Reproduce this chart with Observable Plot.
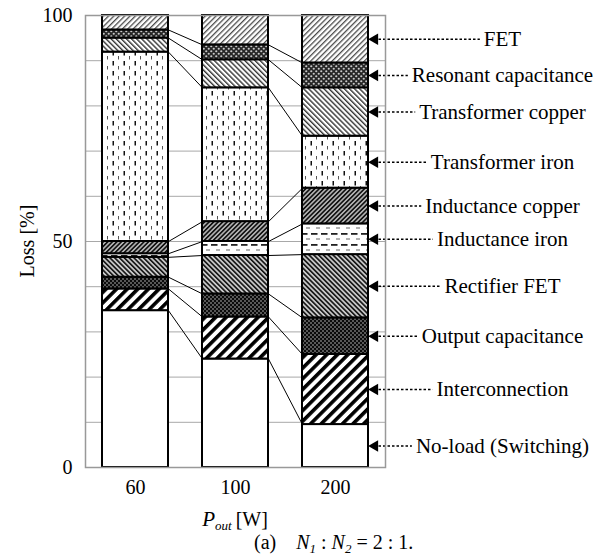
<!DOCTYPE html>
<html><head><meta charset="utf-8">
<script src="https://cdn.jsdelivr.net/npm/d3@7"></script>
<script src="https://cdn.jsdelivr.net/npm/@observablehq/plot@0.6"></script>
<style>
body{margin:0;background:#fff;font-family:"Liberation Serif","Times New Roman",serif;}
#wrap{position:relative;width:605px;height:559px;overflow:hidden;}
#caption{position:absolute;left:254px;top:530px;font-size:20px;line-height:24px;color:#000;white-space:nowrap;}
#caption sub{font-size:13px;vertical-align:-4px;line-height:0;}
</style></head><body>
<svg width="0" height="0" style="position:absolute">
<defs>
<pattern id="p-fet" width="3.8" height="3.8" patternUnits="userSpaceOnUse" patternTransform="rotate(45)">
 <rect width="3.8" height="3.8" fill="#fff"/><rect x="0" y="0" width="1.3" height="3.8" fill="#4a4a4a"/>
</pattern>
<pattern id="p-rescap" width="5" height="5" patternUnits="userSpaceOnUse">
 <rect width="5" height="5" fill="#262626"/>
 <circle cx="1.25" cy="1.25" r="1.1" fill="#c8c8c8"/><circle cx="3.75" cy="3.75" r="1.1" fill="#c8c8c8"/>
</pattern>
<pattern id="p-txcu" width="3.6" height="3.6" patternUnits="userSpaceOnUse" patternTransform="rotate(-45)">
 <rect width="3.6" height="3.6" fill="#fff"/><rect x="0" y="0" width="1.4" height="3.6" fill="#333"/>
</pattern>
<pattern id="p-txfe" width="11" height="10" patternUnits="userSpaceOnUse">
 <rect width="11" height="10" fill="#fff"/>
 <rect x="2.5" y="1" width="1.5" height="4.5" fill="#111"/>
 <rect x="8" y="6" width="1" height="3.5" fill="#555"/>
</pattern>
<pattern id="p-indcu" width="3.2" height="3.2" patternUnits="userSpaceOnUse" patternTransform="rotate(45)">
 <rect width="3.2" height="3.2" fill="#b0b0b0"/><rect x="0" y="0" width="1.6" height="3.2" fill="#111"/>
</pattern>
<pattern id="p-indfe" width="10" height="11" patternUnits="userSpaceOnUse">
 <rect width="10" height="11" fill="#fff"/>
 <rect x="1" y="2" width="6.5" height="1.8" fill="#222"/>
 <rect x="6" y="7.5" width="5" height="1" fill="#666"/>
</pattern>
<pattern id="p-rect" width="3.4" height="3.4" patternUnits="userSpaceOnUse" patternTransform="rotate(-45)">
 <rect width="3.4" height="3.4" fill="#c8c8c8"/><rect x="0" y="0" width="1.6" height="3.4" fill="#111"/>
</pattern>
<pattern id="p-outcap" width="4" height="4" patternUnits="userSpaceOnUse">
 <rect width="4" height="4" fill="#0a0a0a"/>
 <circle cx="1" cy="1" r="0.8" fill="#bbb"/><circle cx="3" cy="3" r="0.8" fill="#bbb"/>
</pattern>
<pattern id="p-inter" width="7.5" height="7.5" patternUnits="userSpaceOnUse" patternTransform="rotate(45)">
 <rect width="7.5" height="7.5" fill="#fff"/><rect x="0" y="0" width="3.6" height="7.5" fill="#000"/>
</pattern>
</defs>
</svg>
<div id="wrap"><div id="chart"></div>
<div id="caption">(a)<span style="display:inline-block;width:20px"></span><i>N</i><sub><i>1</i></sub> : <i>N</i><sub><i>2</i></sub> = 2 : 1.</div>
</div>
<script>
// ---- data ----
const powers = ["60", "100", "200"];
const components = ["No-load (Switching)", "Interconnection", "Output capacitance", "Rectifier FET",
  "Inductance iron", "Inductance copper", "Transformer iron", "Transformer copper", "Resonant capacitance", "FET"];
const patterns = ["#fff", "url(#p-inter)", "url(#p-outcap)", "url(#p-rect)", "url(#p-indfe)",
  "url(#p-indcu)", "url(#p-txfe)", "url(#p-txcu)", "url(#p-rescap)", "url(#p-fet)"];
const loss60 = [34.7, 4.8, 2.6, 4.4, 0.8, 2.7, 41.9, 3.1, 1.8, 3.2];
const loss100 = [24.0, 9.3, 5.1, 8.5, 3.1, 4.4, 29.6, 6.2, 3.3, 6.5];
const loss200 = [9.5, 15.5, 8.1, 14.0, 6.8, 7.9, 11.5, 10.7, 5.5, 10.5];
const yTicks = [0, 50, 100];
const yGrid = d3.range(0, 101, 10);

// ---- layout ----
const W = 605, H = 530, ML = 85, MR = 220, MT = 15, MB = H - 467;
const pxPerUnit = (W - ML - MR) / 3;
const half = 33 / pxPerUnit;          // half bar width
const labelX = 3.67;                  // label centre (in x units)
const font = "Liberation Serif";
const fs = 20, lfs = 21;

const series = [loss60, loss100, loss200];
const rows = [];
const tops = [];
series.forEach((vals, i) => {
  let acc = 0; const t = [];
  vals.forEach((v, j) => {
    rows.push({i, comp: components[j], fill: patterns[j], y1: acc, y2: acc + v});
    acc += v; t.push(acc);
  });
  tops.push(t);
});
const links = [];
for (let i = 0; i < 2; i++) {
  for (let j = 0; j < components.length - 1; j++) {
    links.push({x1: i + half, x2: i + 1 - half, y1: tops[i][j], y2: tops[i + 1][j]});
  }
}
const ctx = document.createElement("canvas").getContext("2d");
ctx.font = `${lfs}px "${font}"`;
const ann = rows.filter(r => r.i === 2).map(r => ({
  name: r.comp, y: (r.y1 + r.y2) / 2,
  w: ctx.measureText(r.comp).width
}));

const plot = Plot.plot({
  width: W, height: H,
  marginLeft: ML, marginRight: MR, marginTop: MT, marginBottom: MB,
  style: {fontFamily: font, fontSize: fs + "px", color: "#000", background: "#fff", overflow: "visible"},
  x: {domain: [-0.5, 2.5]},
  y: {domain: [0, 100]},
  color: {type: "identity"},
  marks: [
    Plot.gridY(yGrid, {stroke: "#a8a8a8", strokeOpacity: 1, strokeWidth: 1}),
    Plot.rect(rows, {x1: d => d.i - half, x2: d => d.i + half, y1: "y1", y2: "y2",
      fill: "fill", stroke: "#000", strokeWidth: 2}),
    Plot.link(links, {x1: "x1", x2: "x2", y1: "y1", y2: "y2", stroke: "#000", strokeWidth: 1}),
    Plot.link(ann, {x1: 2 + half + 10 / pxPerUnit, x2: d => labelX - (d.w / 2 + 4) / pxPerUnit,
      y1: "y", y2: "y", stroke: "#000", strokeWidth: 1.5, strokeDasharray: "2.5,2"}),
    Plot.dot(ann, {x: 2 + half, y: "y", symbol: "triangle", rotate: -90, r: 4.3, dx: 6.3,
      fill: "#000", stroke: "none"}),
    Plot.text(ann, {x: labelX, y: "y", text: "name", fontSize: lfs, fill: "#000", textAnchor: "middle"}),
    Plot.frame({stroke: "#999", strokeWidth: 1.5}),
    Plot.axisY(yTicks, {tickSize: 0, tickPadding: 13, label: null, fontSize: fs}),
    Plot.axisX([0, 1, 2], {tickSize: 0, tickPadding: 12, tickFormat: i => powers[i], label: null, fontSize: fs})
  ]
});

const svg = d3.select(plot);
svg.append("text")
  .attr("transform", "translate(27,241) rotate(-90)")
  .attr("text-anchor", "middle").attr("dominant-baseline", "central")
  .attr("font-size", fs).attr("fill", "#000").text("Loss [%]");
const xt = svg.append("text").attr("x", 235).attr("y", 526)
  .attr("text-anchor", "middle").attr("font-size", fs).attr("fill", "#000");
xt.append("tspan").attr("font-style", "italic").attr("font-size", 21).text("P");
xt.append("tspan").attr("font-style", "italic").attr("font-size", 13).attr("dy", 4).text("out");
xt.append("tspan").attr("dy", -4).text("\u2009[W]");

document.getElementById("chart").appendChild(plot);
</script>
</body></html>
